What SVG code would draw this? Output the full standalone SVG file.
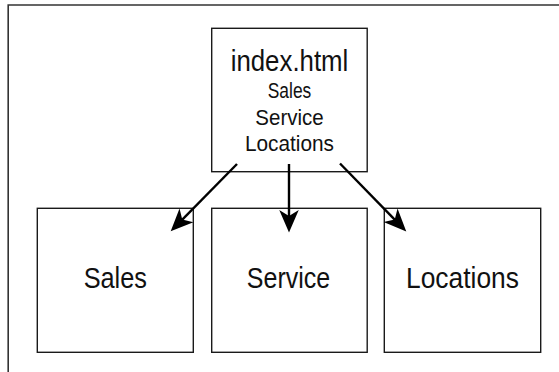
<svg xmlns="http://www.w3.org/2000/svg" width="559" height="372" viewBox="0 0 559 372">
<style>
  .box{fill:#fff;stroke:#1a1a1a;stroke-width:1.4}
  .frame{fill:none;stroke:#333;stroke-width:1.6}
  .t{font-family:"Liberation Sans",Arial,sans-serif;fill:#111;text-anchor:middle}
  .big{font-size:30px}
  .small{font-size:22px}
  .conn{stroke:#000;stroke-width:2.4;fill:none;marker-end:url(#ah)}
</style>
<defs>
  <marker id="ah" markerUnits="userSpaceOnUse" markerWidth="30" markerHeight="30" refX="0" refY="0" orient="auto" overflow="visible" viewBox="-10 -10 20 20">
    <path d="M8,0 L-7,-6.5 L-3,0 L-7,6.5 Z" fill="#000"/>
  </marker>
</defs>
<rect width="559" height="372" fill="#fff"/>
<path class="frame" d="M8.2,372 V5 H559"/>
<g id="index">
  <rect class="box" x="211.7" y="28.3" width="155.5" height="143.4"/>
  <text class="t big" x="289.5" y="70.5" textLength="117.7" lengthAdjust="spacingAndGlyphs">index.html</text>
  <text class="t small" x="289.5" y="97.5" textLength="43.5" lengthAdjust="spacingAndGlyphs">Sales</text>
  <text class="t small" x="289.5" y="125" textLength="68.3" lengthAdjust="spacingAndGlyphs">Service</text>
  <text class="t small" x="289.5" y="151" textLength="89" lengthAdjust="spacingAndGlyphs">Locations</text>
</g>
<g id="sales">
  <rect class="box" x="37.3" y="208.3" width="156" height="144"/>
  <text class="t big" x="115.3" y="288" textLength="63.3" lengthAdjust="spacingAndGlyphs">Sales</text>
</g>
<g id="service">
  <rect class="box" x="211.7" y="208.3" width="155.5" height="144"/>
  <text class="t big" x="288.5" y="288" textLength="83.3" lengthAdjust="spacingAndGlyphs">Service</text>
</g>
<g id="locations">
  <rect class="box" x="384.3" y="208.3" width="156.4" height="144"/>
  <text class="t big" x="462.5" y="288" textLength="113" lengthAdjust="spacingAndGlyphs">Locations</text>
</g>
<g id="connectors">
  <line class="conn" x1="237" y1="164" x2="179.1" y2="222.8"/>
  <line class="conn" x1="289" y1="164" x2="289" y2="220.5"/>
  <line class="conn" x1="340" y1="163.5" x2="397.9" y2="222.8"/>
</g>
</svg>
